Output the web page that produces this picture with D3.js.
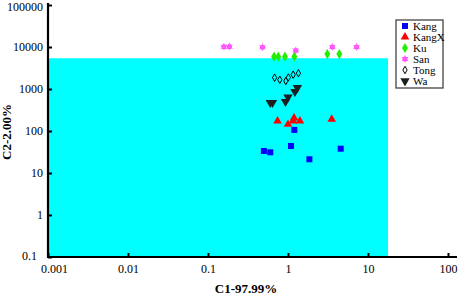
<!DOCTYPE html>
<html><head><meta charset="utf-8">
<script src="https://cdn.jsdelivr.net/npm/d3@7"></script>
<style>body{margin:0;background:#fff}svg{display:block}</style>
</head><body>
<svg id="c" width="461" height="295"></svg>
<script>
const series = ["Kang","KangX","Ku","San","Tong","Wa"];
const xTicks = [0.001,0.01,0.1,1,10,100];
const yTicks = [0.1,1,10,100,1000,10000,100000];
const xTickLabels = ["0.001","0.01","0.1","1","10","100"];
const yTickLabels = ["0.1","1","10","100","1000","10000","100000"];
const regionX = [0.001, 17.8];
const regionY = [0.1, 5400];
const kangX = [1.2, 0.5, 0.6, 1.09, 1.85, 4.56];
const kangY = [106, 33.4, 31.1, 44, 21.2, 37.9];
const kangXX = [0.74, 1.0, 1.19, 1.16, 1.41, 3.52];
const kangXY = [173, 144, 204, 173, 173, 190];
const kuX = [0.67, 0.756, 0.917, 1.2, 3.1, 4.38];
const kuY = [5870, 5870, 5870, 5870, 6800, 6800];
const sanX = [0.158, 0.185, 0.48, 1.25, 3.58, 7.2];
const sanY = [10100, 10200, 9900, 8260, 10000, 10000];
const tongX = [0.68, 0.79, 0.94, 1.01, 1.16, 1.35];
const tongY = [1860, 1660, 1550, 1880, 2190, 2370];
const waX = [0.6, 0.64, 0.93, 1.0, 1.22, 1.31];
const waY = [472, 472, 499, 638, 863, 1070];

const svg = d3.select("#c");
const x = d3.scaleLog().domain([0.001,100]).range([48,448]);
const y = d3.scaleLog().domain([0.1,100000]).range([257,5]);
const serif = "'Liberation Serif','Times New Roman',serif";

// cyan region
svg.append("rect")
  .attr("x", x(regionX[0])).attr("y", y(regionY[1]))
  .attr("width", x(regionX[1]) - x(regionX[0]))
  .attr("height", y(regionY[0]) - y(regionY[1]))
  .attr("fill", "#00ffff");

// axes
const gx = svg.append("g").attr("transform","translate(0,257)")
  .call(d3.axisBottom(x).tickValues(xTicks).tickFormat((d,i)=>xTickLabels[i]).tickSize(-4).tickPadding(7));
const gy = svg.append("g").attr("transform","translate(48,0)")
  .call(d3.axisLeft(y).tickValues(yTicks).tickFormat((d,i)=>yTickLabels[i]).tickSize(-4).tickPadding(5));
[gx,gy].forEach(g=>{
  g.select(".domain").remove();
  g.selectAll(".tick line").attr("stroke","#000").attr("stroke-width",2);
  g.selectAll(".tick text").attr("fill","#000").style("font-family",serif).style("font-size","12px");
});
gx.selectAll(".tick text").filter((d,i)=>i===0).attr("dx",6);
gy.selectAll(".tick text").filter((d,i)=>i===0).attr("dx",-6).attr("dy","0.2em");
gy.selectAll(".tick text").filter((d,i)=>i===yTicks.length-1).attr("dy","0.45em");
svg.append("line").attr("x1",48).attr("x2",48).attr("y1",3).attr("y2",258).attr("stroke","#000").attr("stroke-width",2.2);
svg.append("line").attr("x1",47).attr("x2",457).attr("y1",257).attr("y2",257).attr("stroke","#000").attr("stroke-width",2.2);

// titles
svg.append("text").attr("x",246).attr("y",293).attr("text-anchor","middle")
  .style("font-family",serif).style("font-size","13px").style("font-weight","bold").text("C1-97.99%");
svg.append("text").attr("transform","translate(11,132) rotate(-90)").attr("text-anchor","middle")
  .style("font-family",serif).style("font-size","13px").style("font-weight","bold").text("C2-2.00%");

// markers
const styles = {
  Kang:  {sym:d3.symbolSquare,   size:36, fill:"#0000ff", stroke:"none", rot:0},
  KangX: {sym:d3.symbolTriangle, size:32, fill:"#ff0000", stroke:"none", rot:0},
  Ku:    {sym:d3.symbolDiamond,  size:30, fill:"#22ee00", stroke:"none", rot:0},
  San:   {sym:d3.symbolCircle,   size:20, fill:"#ff33ff", stroke:"none", rot:0},
  Tong:  {sym:d3.symbolDiamond,  size:16, fill:"none",    stroke:"#000", rot:0},
  Wa:    {sym:d3.symbolTriangle, size:38, fill:"#1a1f1f", stroke:"none", rot:180}
};
const data = {
  Kang: d3.zip(kangX,kangY), KangX: d3.zip(kangXX,kangXY), Ku: d3.zip(kuX,kuY),
  San: d3.zip(sanX,sanY), Tong: d3.zip(tongX,tongY), Wa: d3.zip(waX,waY)
};
function draw(g, s, cx, cy){
  const st = styles[s];
  g.append("path").attr("d", d3.symbol(st.sym, st.size)())
    .attr("transform", `translate(${cx},${cy}) rotate(${st.rot})`)
    .attr("fill", st.fill).attr("stroke", st.stroke).attr("stroke-width", 1);
  if (s === "San") {
    g.append("path").attr("d", d3.symbol(d3.symbolAsterisk, 36)())
      .attr("transform", `translate(${cx},${cy})`)
      .attr("fill","none").attr("stroke","#ff66ff").attr("stroke-width",1);
  }
}
const pts = svg.append("g");
series.forEach(s => data[s].forEach(([vx,vy]) => draw(pts, s, x(vx), y(vy))));

// legend
const lg = svg.append("g");
lg.append("rect").attr("x",396).attr("y",20).attr("width",47).attr("height",68)
  .attr("fill","#fff").attr("stroke","#444").attr("stroke-width",1.3);
series.forEach((s,i)=>{
  const ly = 26 + i*11;
  draw(lg, s, 405, ly);
  lg.append("text").attr("x",413).attr("y",ly).attr("dy","0.35em")
    .style("font-family",serif).style("font-size","11px").text(s);
});
</script>
</body></html>
